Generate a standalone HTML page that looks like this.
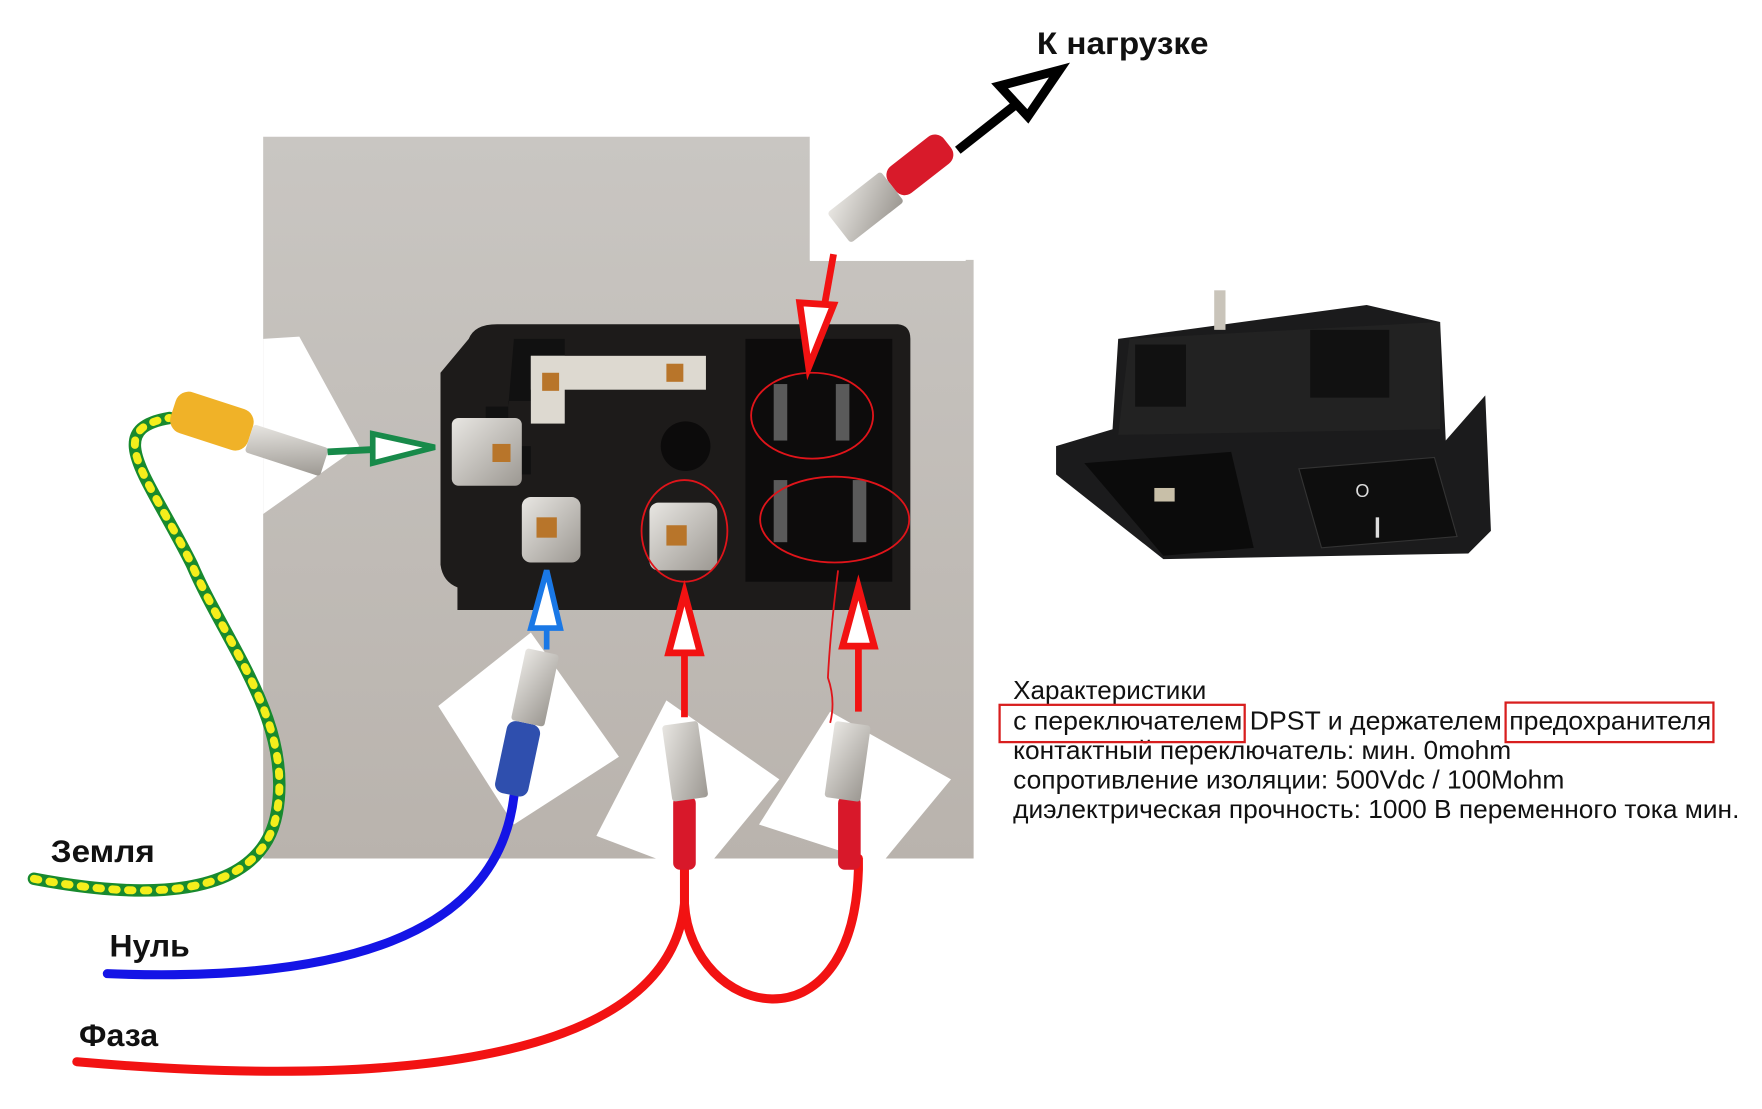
<!DOCTYPE html>
<html><head><meta charset="utf-8"><style>
html,body{margin:0;padding:0;background:#fff;width:1762px;height:1109px;overflow:hidden}
svg{display:block}
</style></head><body>
<svg width="1762" height="1109" viewBox="0 0 1560 981.8" xmlns="http://www.w3.org/2000/svg" font-family="Liberation Sans, Arial, sans-serif">
<defs>
<linearGradient id="bg" x1="0" y1="0" x2="0" y2="1"><stop offset="0" stop-color="#c9c6c2"/><stop offset="1" stop-color="#b9b3ad"/></linearGradient>
<linearGradient id="met" x1="0" y1="0" x2="1" y2="1"><stop offset="0" stop-color="#e8e6e2"/><stop offset="1" stop-color="#9c9892"/></linearGradient>
</defs>
<path d="M233,121 H717 V230 H862 V760 H233 Z" fill="url(#bg)"/>
<polygon points="233,300 265,298 318,395 233,455" fill="#fff"/>
<polygon points="388,625 470,560 548,670 455,730" fill="#fff"/>
<polygon points="528,740 590,620 690,690 620,775" fill="#fff"/>
<polygon points="672,730 735,630 842,690 780,765" fill="#fff"/>
<rect x="717" y="121" width="138" height="110" fill="#fff"/>
<path d="M440,287 H795 Q806,288 806,300 V540 H405 V520 Q392,515 390,500 V330 L415,300 Q420,287 440,287 Z" fill="#1d1b1a"/>
<rect x="660" y="300" width="130" height="215" fill="#0d0c0c"/>
<path d="M455,300 H500 V318 H470 V355 H450 V395 H470 V420 H430 V360 H450 Z" fill="#111"/>
<rect x="470" y="315" width="155" height="30" fill="#ddd9d0"/>
<rect x="470" y="315" width="30" height="60" fill="#ddd9d0"/>
<rect x="480" y="330" width="15" height="16" fill="#b8752a"/>
<rect x="590" y="322" width="15" height="16" fill="#b8752a"/>
<rect x="400" y="370" width="62" height="60" rx="6" fill="url(#met)"/>
<rect x="436" y="393" width="16" height="16" fill="#b8752a"/>
<rect x="462" y="440" width="52" height="58" rx="8" fill="url(#met)"/>
<rect x="475" y="458" width="18" height="18" fill="#b8752a"/>
<rect x="575" y="445" width="60" height="60" rx="8" fill="url(#met)"/>
<rect x="590" y="465" width="18" height="18" fill="#b8752a"/>
<circle cx="607" cy="395" r="22" fill="#0c0b0b"/>
<rect x="685" y="340" width="12" height="50" fill="#5a5a5a"/>
<rect x="740" y="340" width="12" height="50" fill="#5a5a5a"/>
<rect x="685" y="425" width="12" height="55" fill="#5a5a5a"/>
<rect x="755" y="425" width="12" height="55" fill="#5a5a5a"/>
<g fill="none" stroke="#e0141a" stroke-width="1.6">
<ellipse cx="606" cy="470" rx="38" ry="45"/>
<ellipse cx="719" cy="368" rx="54" ry="38"/>
<ellipse cx="739" cy="460" rx="66" ry="38"/>
<path d="M742,505 Q735,560 733,600 Q740,620 735,640"/>
</g>
<path d="M30,778 C120,795 230,800 245,720 C260,640 200,570 170,500 C130,420 90,380 150,370" fill="none" stroke="#188a2e" stroke-width="11" stroke-linecap="round"/>
<path d="M30,778 C120,795 230,800 245,720 C260,640 200,570 170,500 C130,420 90,380 150,370" fill="none" stroke="#f4ee1c" stroke-width="7" stroke-dasharray="4 10" stroke-linecap="round"/>
<g transform="rotate(18 200 380)">
<rect x="150" y="358" width="72" height="38" rx="12" fill="#f0b228"/>
<rect x="222" y="368" width="70" height="26" rx="3" fill="url(#met)"/>
</g>
<path d="M95,862 C300,870 440,830 455,705" fill="none" stroke="#1414e6" stroke-width="8" stroke-linecap="round"/>
<g transform="rotate(12 465 640)">
<rect x="450" y="640" width="30" height="65" rx="8" fill="#2f4fae"/>
<rect x="452" y="575" width="30" height="65" rx="3" fill="url(#met)"/>
</g>
<g fill="none" stroke="#f21212" stroke-width="8" stroke-linecap="round">
<path d="M68,940 C300,960 590,955 606,800 L606,760"/>
<path d="M606,800 C612,900 755,935 760,770 L760,760"/>
</g>
<rect x="596" y="705" width="20" height="65" rx="6" fill="#d8182a"/>
<rect x="590" y="640" width="32" height="68" rx="3" fill="url(#met)" transform="rotate(-8 606 670)"/>
<rect x="742" y="705" width="20" height="65" rx="6" fill="#d8182a"/>
<rect x="735" y="640" width="32" height="68" rx="3" fill="url(#met)" transform="rotate(8 750 670)"/>
<g transform="rotate(-38 790 165)">
<rect x="790" y="150" width="62" height="30" rx="10" fill="#d81a2a"/>
<rect x="730" y="148" width="60" height="34" rx="3" fill="url(#met)"/>
</g>
<g stroke-linejoin="miter">
<line x1="606" y1="635" x2="606" y2="575" stroke="#f21212" stroke-width="6"/>
<polygon points="606,525 592,578 620,578" fill="#fff" stroke="#f21212" stroke-width="6"/>
<line x1="760" y1="630" x2="760" y2="570" stroke="#f21212" stroke-width="6"/>
<polygon points="760,520 746,572 774,572" fill="#fff" stroke="#f21212" stroke-width="6"/>
<line x1="484" y1="575" x2="484" y2="555" stroke="#1a78e6" stroke-width="5"/>
<polygon points="484,505 470,556 496,556" fill="#fff" stroke="#1a78e6" stroke-width="5"/>
<line x1="290" y1="400" x2="330" y2="398" stroke="#188a4a" stroke-width="6"/>
<polygon points="385,396 330,384 330,410" fill="#fff" stroke="#188a4a" stroke-width="5"/>
<line x1="738" y1="225" x2="730" y2="270" stroke="#f21212" stroke-width="6"/>
<polygon points="716,325 708,268 738,270" fill="#fff" stroke="#f21212" stroke-width="6"/>
<line x1="848" y1="133" x2="900" y2="92" stroke="#000" stroke-width="8"/>
<polygon points="938,62 885,76 910,103" fill="#fff" stroke="#000" stroke-width="8"/>
</g>
<path d="M990,300 L1210,270 L1275,285 L1280,390 L1315,350 L1320,470 L1300,490 L1030,495 L935,420 L935,395 L985,380 Z" fill="#1b1b1c"/>
<path d="M1000,300 L1275,285 L1275,380 L990,385 Z" fill="#222"/>
<rect x="1005" y="305" width="45" height="55" fill="#111"/>
<rect x="1160" y="292" width="70" height="60" fill="#111"/>
<path d="M960,410 L1090,400 L1110,485 L1030,492 Z" fill="#0b0b0b"/>
<rect x="1022" y="432" width="18" height="12" fill="#c8bfa8"/>
<path d="M1150,415 L1270,405 L1290,475 L1170,485 Z" fill="#0e0e0e" stroke="#333"/>
<text x="1200" y="440" fill="#ddd" font-size="16">O</text>
<rect x="1218" y="458" width="3" height="18" fill="#ddd"/>
<rect x="1075" y="257" width="10" height="35" fill="#c9c4ba"/>
<g font-weight="bold" font-size="28" fill="#111" lengthAdjust="spacingAndGlyphs">
<text x="918" y="48" textLength="152" lengthAdjust="spacingAndGlyphs">К нагрузке</text>
<text x="45" y="763" textLength="92" lengthAdjust="spacingAndGlyphs">Земля</text>
<text x="97" y="847" textLength="71" lengthAdjust="spacingAndGlyphs">Нуль</text>
<text x="70" y="926" textLength="70" lengthAdjust="spacingAndGlyphs">Фаза</text>
</g>
<g font-size="23" fill="#111">
<text x="897" y="619" textLength="171" lengthAdjust="spacingAndGlyphs">Характеристики</text>
<text x="897" y="646" textLength="618" lengthAdjust="spacingAndGlyphs">с переключателем DPST и держателем предохранителя</text>
<text x="897" y="672" textLength="441" lengthAdjust="spacingAndGlyphs">контактный переключатель: мин. 0mohm</text>
<text x="897" y="698" textLength="488" lengthAdjust="spacingAndGlyphs">сопротивление изоляции: 500Vdc / 100Mohm</text>
<text x="897" y="724" textLength="643" lengthAdjust="spacingAndGlyphs">диэлектрическая прочность: 1000 В переменного тока мин.</text>
</g>
<rect x="885" y="624" width="217" height="33" fill="none" stroke="#d81e1e" stroke-width="2"/>
<rect x="1333" y="622" width="184" height="35" fill="none" stroke="#d81e1e" stroke-width="2"/>
</svg>
</body></html>
